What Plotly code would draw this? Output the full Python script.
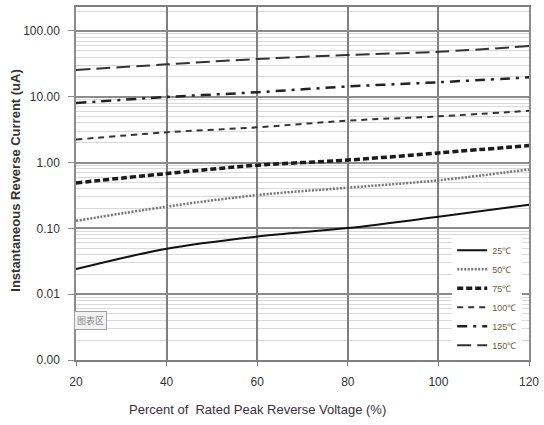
import plotly.graph_objects as go

# Percent of rated peak reverse voltage
x_pct = [20, 40, 60, 80, 100, 120]

# Reverse current (uA) per junction temperature
i_25 = [0.024, 0.049, 0.075, 0.101, 0.150, 0.228]
i_50 = [0.13, 0.214, 0.32, 0.415, 0.537, 0.787]
i_75 = [0.49, 0.68, 0.91, 1.09, 1.40, 1.81]
i_100 = [2.23, 2.88, 3.43, 4.33, 5.03, 6.12]
i_125 = [8.0, 9.9, 11.7, 14.3, 16.6, 19.7]
i_150 = [25.5, 31.0, 37.4, 43.0, 48.2, 58.7]

series_names = ["25℃", "50℃", "75℃", "100℃", "125℃", "150℃"]
series_values = [i_25, i_50, i_75, i_100, i_125, i_150]

y_tick_vals = [0.001, 0.01, 0.1, 1, 10, 100]
y_tick_text = ["0.00", "0.01", "0.10", "1.00", "10.00", "100.00"]
x_tick_vals = [20, 40, 60, 80, 100, 120]

styles = [
    dict(color="#111111", width=2, dash="solid"),
    dict(color="#777777", width=2.5, dash="2px,1.5px"),
    dict(color="#1a1a1a", width=3.5, dash="6px,3px"),
    dict(color="#333333", width=2, dash="6px,5px"),
    dict(color="#222222", width=2.5, dash="10px,6px,3px,6px"),
    dict(color="#333333", width=2, dash="14px,6px"),
]

fig = go.Figure()
for name, vals, st in zip(series_names, series_values, styles):
    fig.add_trace(go.Scatter(x=x_pct, y=vals, name=name, mode="lines",
                             line=dict(shape="spline", **st)))

tick_font = dict(family="Liberation Sans Narrow, Arial Narrow, Liberation Sans", size=12, color="#333")

fig.update_layout(
    width=544, height=425,
    margin=dict(l=76, r=10, t=5, b=65),
    paper_bgcolor="white", plot_bgcolor="white",
    showlegend=True,
    legend=dict(x=0.985, y=0.352, xanchor="right", yanchor="top",
                bgcolor="white", borderwidth=0,
                font=dict(family="Liberation Sans Narrow, Liberation Sans", size=9, color="#6b5a48"),
                tracegroupgap=0, itemwidth=30),
    xaxis=dict(range=[20, 120], tickvals=x_tick_vals, tickfont=tick_font,
               showgrid=True, gridcolor="#7f7f7f", gridwidth=1.5,
               ticks="outside", ticklen=4, tickcolor="#7f7f7f",
               showline=True, linecolor="#7f7f7f", linewidth=1.5, mirror=True,
               zeroline=False, ticklabelstandoff=6, ticklabeloverflow="allow"),
    yaxis=dict(type="log", range=[-3, 2.363], tickvals=y_tick_vals, ticktext=y_tick_text,
               tickfont=tick_font,
               showgrid=True, gridcolor="#8c8c8c", gridwidth=1.5,
               ticks="outside", ticklen=6, tickcolor="#8c8c8c",
               showline=True, linecolor="#8c8c8c", linewidth=1.5, mirror=True,
               zeroline=False, ticklabelstandoff=6,
               minor=dict(dtick="D1", showgrid=True, gridcolor="#d9d9d9", gridwidth=1, ticks="")),
)

fig.add_annotation(text="<b>Instantaneous Reverse Current (uA)</b>", textangle=-90,
                   xref="paper", yref="paper", x=-0.133, y=0.51, showarrow=False,
                   xanchor="center", yanchor="middle",
                   font=dict(family="Liberation Sans", size=13, color="#333"))

fig.add_annotation(text="Percent of  Rated Peak Reverse Voltage (%)",
                   xref="paper", yref="paper", x=0.4, y=-0.14, showarrow=False,
                   xanchor="center", yanchor="middle",
                   font=dict(family="Liberation Sans Narrow, Liberation Sans", size=13, color="#3a3040"))

fig.add_annotation(text="图表区", xref="paper", yref="paper", x=0.033, y=0.113,
                   showarrow=False, xanchor="center", yanchor="middle",
                   bgcolor="#f2f2f2", bordercolor="#a0a0a0", borderwidth=1, borderpad=2,
                   font=dict(family="Noto Sans CJK SC", size=9, color="#888"))

fig.write_html("out.html", config={"displayModeBar": False},
               post_script="document.body.style.margin='0';")
